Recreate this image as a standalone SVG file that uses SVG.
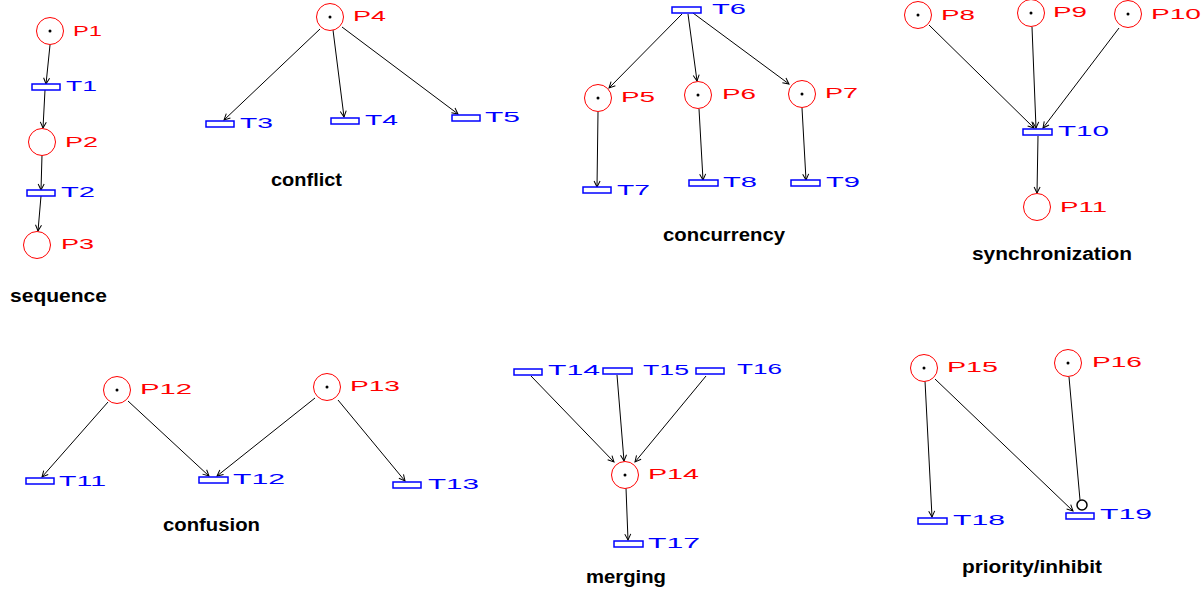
<svg xmlns="http://www.w3.org/2000/svg" width="1201" height="592" viewBox="0 0 1201 592">
<defs>
<style>
.pl{fill:#fff;stroke:#ff0000;stroke-width:1}
.tk{fill:#000}
.tr{fill:#fff;stroke:#0000ff;stroke-width:1.5}
.pt{fill:#ff0000;font-family:"Liberation Sans",Arial,sans-serif;font-size:15px}
.tt{fill:#0000ff;font-family:"Liberation Sans",Arial,sans-serif;font-size:15px}
.cap{fill:#000;font-family:"Liberation Sans",Arial,sans-serif;font-size:18px;font-weight:bold}
.arc{stroke:#000;stroke-width:1;fill:none}
.arr{marker-end:url(#ah)}
</style>
<marker id="ah" viewBox="-8 -4 9 8" refX="0" refY="0" markerWidth="9" markerHeight="8" markerUnits="userSpaceOnUse" orient="auto">
<path d="M-6,-3 L0,0 L-6,3" fill="none" stroke="#000" stroke-width="1"/>
</marker>
</defs>
<rect width="1201" height="592" fill="#fff"/>

<g id="connectors">
<line class="arc arr" x1="50" y1="45" x2="46" y2="84"/>
<line class="arc arr" x1="45" y1="90" x2="43" y2="128"/>
<line class="arc arr" x1="42" y1="155" x2="41" y2="190"/>
<line class="arc arr" x1="41" y1="196" x2="38" y2="231"/>

<line class="arc arr" x1="320" y1="29" x2="224" y2="120"/>
<line class="arc arr" x1="333" y1="30" x2="344" y2="117"/>
<line class="arc arr" x1="342" y1="27" x2="458" y2="114"/>

<line class="arc arr" x1="682" y1="14" x2="609" y2="88"/>
<line class="arc arr" x1="688" y1="14" x2="697" y2="81"/>
<line class="arc arr" x1="693" y1="13" x2="789" y2="84"/>
<line class="arc arr" x1="598" y1="112" x2="597" y2="187"/>
<line class="arc arr" x1="699" y1="109" x2="703" y2="180"/>
<line class="arc arr" x1="802" y1="108" x2="806" y2="180"/>

<line class="arc arr" x1="929" y1="25" x2="1034" y2="128"/>
<line class="arc arr" x1="1032" y1="27" x2="1036" y2="128"/>
<line class="arc arr" x1="1119" y1="28" x2="1043" y2="128"/>
<line class="arc arr" x1="1038" y1="136" x2="1037" y2="193"/>

<line class="arc arr" x1="108" y1="402" x2="42" y2="477"/>
<line class="arc arr" x1="128" y1="401" x2="209" y2="476"/>
<line class="arc arr" x1="315" y1="398" x2="217" y2="476"/>
<line class="arc arr" x1="338" y1="400" x2="405" y2="481"/>

<line class="arc arr" x1="531" y1="376" x2="614" y2="462"/>
<line class="arc arr" x1="617" y1="375" x2="624" y2="461"/>
<line class="arc arr" x1="706" y1="376" x2="635" y2="462"/>
<line class="arc arr" x1="626" y1="488" x2="628" y2="540"/>

<line class="arc arr" x1="925" y1="381" x2="932" y2="517"/>
<line class="arc arr" x1="935" y1="379" x2="1073" y2="511"/>
<line class="arc" x1="1069" y1="377" x2="1080" y2="500"/>
<circle cx="1082" cy="505" r="5" fill="#fff" stroke="#000" stroke-width="1.5"/>
</g>

<g id="P1"><circle class="pl" cx="50" cy="31" r="13.5"/><circle class="tk" cx="50" cy="31" r="1.5"/><text class="pt" x="73" y="36" textLength="29" lengthAdjust="spacingAndGlyphs">P1</text></g>
<g id="T1"><rect class="tr" x="32" y="84" width="28" height="6"/><text class="tt" x="66" y="91" textLength="31" lengthAdjust="spacingAndGlyphs">T1</text></g>
<g id="P2"><circle class="pl" cx="42" cy="142" r="13.5"/><text class="pt" x="65" y="147" textLength="33" lengthAdjust="spacingAndGlyphs">P2</text></g>
<g id="T2"><rect class="tr" x="27" y="190" width="28" height="6"/><text class="tt" x="61" y="197" textLength="34" lengthAdjust="spacingAndGlyphs">T2</text></g>
<g id="P3"><circle class="pl" cx="37" cy="245" r="13.5"/><text class="pt" x="61" y="249" textLength="33" lengthAdjust="spacingAndGlyphs">P3</text></g>
<text class="cap" x="10" y="302" textLength="97" lengthAdjust="spacingAndGlyphs">sequence</text>

<g id="P4"><circle class="pl" cx="330" cy="17" r="13.5"/><circle class="tk" cx="330" cy="17" r="1.5"/><text class="pt" x="353" y="21" textLength="33" lengthAdjust="spacingAndGlyphs">P4</text></g>
<g id="T3"><rect class="tr" x="206" y="121" width="28" height="6"/><text class="tt" x="240" y="128" textLength="33" lengthAdjust="spacingAndGlyphs">T3</text></g>
<g id="T4"><rect class="tr" x="331" y="118" width="28" height="6"/><text class="tt" x="365" y="125" textLength="33" lengthAdjust="spacingAndGlyphs">T4</text></g>
<g id="T5"><rect class="tr" x="452" y="115" width="28" height="6"/><text class="tt" x="485" y="122" textLength="35" lengthAdjust="spacingAndGlyphs">T5</text></g>
<text class="cap" x="271" y="186" textLength="71" lengthAdjust="spacingAndGlyphs">conflict</text>

<g id="T6"><rect class="tr" x="672" y="7" width="29" height="6"/><text class="tt" x="712" y="14" textLength="34" lengthAdjust="spacingAndGlyphs">T6</text></g>
<g id="P5"><circle class="pl" cx="598" cy="98" r="13.5"/><circle class="tk" cx="598" cy="98" r="1.5"/><text class="pt" x="621" y="102" textLength="34" lengthAdjust="spacingAndGlyphs">P5</text></g>
<g id="P6"><circle class="pl" cx="698" cy="95" r="13.5"/><circle class="tk" cx="698" cy="95" r="1.5"/><text class="pt" x="722" y="99" textLength="34" lengthAdjust="spacingAndGlyphs">P6</text></g>
<g id="P7"><circle class="pl" cx="802" cy="94" r="13.5"/><circle class="tk" cx="802" cy="94" r="1.5"/><text class="pt" x="825" y="98" textLength="33" lengthAdjust="spacingAndGlyphs">P7</text></g>
<g id="T7"><rect class="tr" x="583" y="187" width="28" height="6"/><text class="tt" x="617" y="195" textLength="33" lengthAdjust="spacingAndGlyphs">T7</text></g>
<g id="T8"><rect class="tr" x="689" y="180" width="29" height="6"/><text class="tt" x="723" y="187" textLength="34" lengthAdjust="spacingAndGlyphs">T8</text></g>
<g id="T9"><rect class="tr" x="791" y="180" width="29" height="6"/><text class="tt" x="826" y="187" textLength="34" lengthAdjust="spacingAndGlyphs">T9</text></g>
<text class="cap" x="663" y="241" textLength="122" lengthAdjust="spacingAndGlyphs">concurrency</text>

<g id="P8"><circle class="pl" cx="918" cy="15" r="13.5"/><circle class="tk" cx="918" cy="15" r="1.5"/><text class="pt" x="941" y="20" textLength="34" lengthAdjust="spacingAndGlyphs">P8</text></g>
<g id="P9"><circle class="pl" cx="1031" cy="13" r="13.5"/><circle class="tk" cx="1031" cy="13" r="1.5"/><text class="pt" x="1053" y="17" textLength="34" lengthAdjust="spacingAndGlyphs">P9</text></g>
<g id="P10"><circle class="pl" cx="1128" cy="14" r="13.5"/><circle class="tk" cx="1128" cy="14" r="1.5"/><text class="pt" x="1151" y="19" textLength="50" lengthAdjust="spacingAndGlyphs">P10</text></g>
<g id="T10"><rect class="tr" x="1023" y="129" width="29" height="6"/><text class="tt" x="1058" y="136" textLength="51" lengthAdjust="spacingAndGlyphs">T10</text></g>
<g id="P11"><circle class="pl" cx="1037" cy="207" r="13.5"/><text class="pt" x="1060" y="212" textLength="47" lengthAdjust="spacingAndGlyphs">P11</text></g>
<text class="cap" x="972" y="260" textLength="160" lengthAdjust="spacingAndGlyphs">synchronization</text>

<g id="P12"><circle class="pl" cx="117" cy="390" r="13.5"/><circle class="tk" cx="117" cy="390" r="1.5"/><text class="pt" x="140" y="394" textLength="52" lengthAdjust="spacingAndGlyphs">P12</text></g>
<g id="P13"><circle class="pl" cx="327" cy="387" r="13.5"/><circle class="tk" cx="327" cy="387" r="1.5"/><text class="pt" x="350" y="391" textLength="50" lengthAdjust="spacingAndGlyphs">P13</text></g>
<g id="T11"><rect class="tr" x="26" y="478" width="28" height="6"/><text class="tt" x="59" y="486" textLength="47" lengthAdjust="spacingAndGlyphs">T11</text></g>
<g id="T12"><rect class="tr" x="199" y="477" width="29" height="6"/><text class="tt" x="233" y="484" textLength="52" lengthAdjust="spacingAndGlyphs">T12</text></g>
<g id="T13"><rect class="tr" x="393" y="482" width="28" height="6"/><text class="tt" x="428" y="489" textLength="51" lengthAdjust="spacingAndGlyphs">T13</text></g>
<text class="cap" x="163" y="531" textLength="97" lengthAdjust="spacingAndGlyphs">confusion</text>

<g id="T14"><rect class="tr" x="514" y="369" width="28" height="6"/><text class="tt" x="548" y="375" textLength="52" lengthAdjust="spacingAndGlyphs">T14</text></g>
<g id="T15"><rect class="tr" x="603" y="368" width="29" height="6"/><text class="tt" x="643" y="375" textLength="46" lengthAdjust="spacingAndGlyphs">T15</text></g>
<g id="T16"><rect class="tr" x="696" y="368" width="28" height="6"/><text class="tt" x="737" y="374" textLength="45" lengthAdjust="spacingAndGlyphs">T16</text></g>
<g id="P14"><circle class="pl" cx="625" cy="475" r="13.5"/><circle class="tk" cx="625" cy="475" r="1.5"/><text class="pt" x="648" y="479" textLength="51" lengthAdjust="spacingAndGlyphs">P14</text></g>
<g id="T17"><rect class="tr" x="614" y="541" width="29" height="6"/><text class="tt" x="648" y="548" textLength="52" lengthAdjust="spacingAndGlyphs">T17</text></g>
<text class="cap" x="586" y="583" textLength="80" lengthAdjust="spacingAndGlyphs">merging</text>

<g id="P15"><circle class="pl" cx="924" cy="368" r="13.5"/><circle class="tk" cx="924" cy="368" r="1.5"/><text class="pt" x="947" y="372" textLength="51" lengthAdjust="spacingAndGlyphs">P15</text></g>
<g id="P16"><circle class="pl" cx="1068" cy="363" r="13.5"/><circle class="tk" cx="1068" cy="363" r="1.5"/><text class="pt" x="1092" y="367" textLength="50" lengthAdjust="spacingAndGlyphs">P16</text></g>
<g id="T18"><rect class="tr" x="918" y="518" width="29" height="6"/><text class="tt" x="953" y="525" textLength="52" lengthAdjust="spacingAndGlyphs">T18</text></g>
<g id="T19"><rect class="tr" x="1066" y="513" width="28" height="6"/><text class="tt" x="1100" y="519" textLength="52" lengthAdjust="spacingAndGlyphs">T19</text></g>
<text class="cap" x="962" y="573" textLength="140" lengthAdjust="spacingAndGlyphs">priority/inhibit</text>
</svg>
